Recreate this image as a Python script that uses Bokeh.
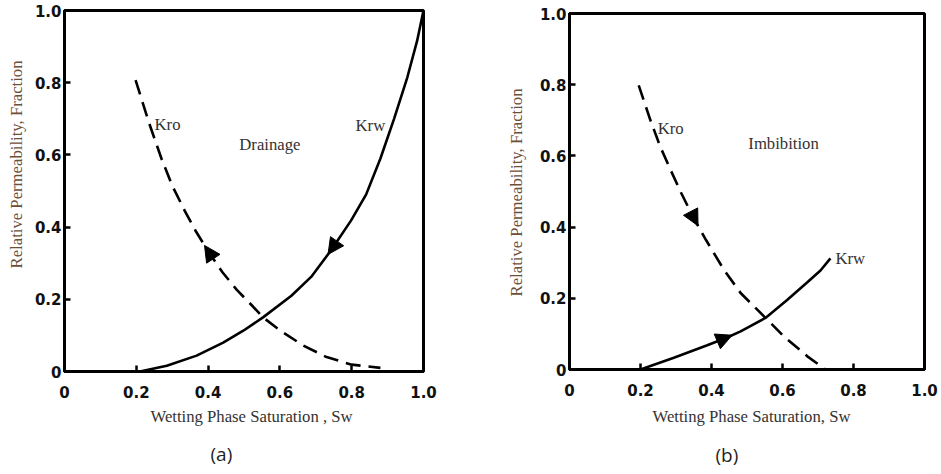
import numpy as np
from bokeh.plotting import figure
from bokeh.layouts import row, column
from bokeh.models import (Range1d, FixedTicker, CustomJSTickFormatter, Label, Title,
                          Arrow, NormalHead)
from bokeh.embed import file_html
from bokeh.resources import INLINE

# Axis ticks (fraction scales on both axes)
tick_values = [0.0, 0.2, 0.4, 0.6, 0.8, 1.0]

# (a) Drainage: relative permeability vs wetting phase saturation
drain_kro_sw = [0.198, 0.235, 0.270, 0.300, 0.335, 0.365, 0.400, 0.440, 0.480, 0.525,
                0.553, 0.600, 0.665, 0.730, 0.800, 0.880]
drain_kro = [0.807, 0.690, 0.590, 0.515, 0.445, 0.390, 0.333, 0.275, 0.226, 0.180,
             0.150, 0.114, 0.072, 0.040, 0.019, 0.010]
drain_krw_sw = [0.210, 0.285, 0.368, 0.442, 0.498, 0.553, 0.632, 0.687, 0.742, 0.798,
                0.840, 0.880, 0.918, 0.955, 0.982, 1.000]
drain_krw = [0.000, 0.016, 0.044, 0.080, 0.113, 0.150, 0.210, 0.262, 0.335, 0.418,
             0.490, 0.590, 0.700, 0.815, 0.915, 1.000]

# (b) Imbibition
imb_kro_sw = [0.195, 0.228, 0.256, 0.285, 0.315, 0.350, 0.385, 0.435, 0.482, 0.552,
              0.604, 0.670, 0.721]
imb_kro = [0.798, 0.700, 0.625, 0.560, 0.495, 0.425, 0.363, 0.280, 0.215, 0.145,
           0.093, 0.037, 0.000]
imb_krw_sw = [0.200, 0.294, 0.388, 0.444, 0.482, 0.552, 0.613, 0.670, 0.707, 0.735]
imb_krw = [0.000, 0.033, 0.068, 0.090, 0.107, 0.145, 0.195, 0.245, 0.278, 0.312]

# Direction arrows on each curve: saturation at the arrow tip, +1 = towards higher Sw
drain_arrows = [("kro", 0.390, -1), ("krw", 0.734, -1)]
imb_arrows = [("kro", 0.362, +1), ("krw", 0.458, +1)]

SERIF = "Liberation Serif"
SERIF_SIZE = "16.7px"
TEXT_GREY = "#333333"


def make_panel(kro_sw, kro, krw_sw, krw, arrows, title, panel_tag, width,
               borders, label_pos, xlab_text, ytitle_cfg, xtitle_cfg, tag_cfg):
    left, right, top, bottom = borders
    p = figure(width=width, height=474, output_backend="svg", toolbar_location=None,
               x_range=Range1d(0, 1), y_range=Range1d(0, 1),
               min_border_left=left, min_border_right=right,
               min_border_top=top, min_border_bottom=bottom,
               background_fill_color="white", border_fill_color="white")
    p.grid.visible = False
    p.outline_line_color = "black"
    p.outline_line_width = 3
    p.outline_line_alpha = 1.0

    for ax in (p.xaxis, p.yaxis):
        ax.ticker = FixedTicker(ticks=tick_values, minor_ticks=[])
        ax.formatter = CustomJSTickFormatter(code="return tick == 0 ? '0' : tick.toFixed(1);")
        ax.axis_line_width = 3
        ax.major_tick_in = 6
        ax.major_tick_out = 0
        ax.major_tick_line_width = 2.5
        ax.minor_tick_line_color = None
        ax.major_label_text_font = "DejaVu Sans"
        ax.major_label_text_font_style = "bold"
        ax.major_label_text_font_size = "15px"
        ax.major_label_text_color = "#111111"
    p.xaxis.major_label_standoff = 14
    p.yaxis.major_label_standoff = 3

    # Oil (dashed) and water (solid) relative permeability curves
    p.line(kro_sw, kro, line_color="black", line_width=2.6, line_dash="15 8")
    p.line(krw_sw, krw, line_color="black", line_width=2.6)

    curves = {"kro": (kro_sw, kro), "krw": (krw_sw, krw)}
    for name, sw_tip, direction in arrows:
        xs, ys = curves[name]
        x_start = sw_tip - direction * 0.03
        p.add_layout(Arrow(
            end=NormalHead(size=16, fill_color="black", line_color="black", line_width=1),
            x_start=x_start, y_start=float(np.interp(x_start, xs, ys)),
            x_end=sw_tip, y_end=float(np.interp(sw_tip, xs, ys)),
            line_alpha=0.0))

    # In-plot curve names and process name
    kro_xy, title_xy, krw_xy, krw_align = label_pos
    txt = dict(text_font=SERIF, text_font_size=SERIF_SIZE, text_color=TEXT_GREY,
               text_align="center", text_baseline="middle")
    p.add_layout(Label(x=kro_xy[0], y=kro_xy[1], text="Kro", **txt))
    p.add_layout(Label(x=title_xy[0], y=title_xy[1], text=title, **txt))
    krw_style = dict(txt, text_align=krw_align)
    p.add_layout(Label(x=krw_xy[0], y=krw_xy[1], text="Krw", **krw_style))

    # Axis titles and panel tag, laid out in the side panels
    y_off, y_stand = ytitle_cfg
    p.add_layout(Title(text="Relative Permeability, Fraction", align="right",
                       vertical_align="middle", offset=y_off, standoff=y_stand,
                       text_font=SERIF, text_font_size=SERIF_SIZE, text_font_style="normal",
                       text_color="#6e4e36"), "left")
    x_off, x_stand = xtitle_cfg
    p.add_layout(Title(text=xlab_text, align="left", vertical_align="middle",
                       offset=x_off, standoff=x_stand,
                       text_font=SERIF, text_font_size=SERIF_SIZE, text_font_style="normal",
                       text_color=TEXT_GREY), "below")
    t_off, t_stand = tag_cfg
    p.add_layout(Title(text=panel_tag, align="left", vertical_align="middle",
                       offset=t_off, standoff=t_stand,
                       text_font="Open Sans", text_font_size="19px",
                       text_font_style="normal", text_color="#1f1f1f"), "below")
    return p


p_a = make_panel(drain_kro_sw, drain_kro, drain_krw_sw, drain_krw, drain_arrows,
                 "Drainage", "(a)", 470, (62, 47, 10, 102),
                 ((0.287, 0.685), (0.572, 0.630), (0.852, 0.682), "center"),
                 "Wetting Phase Saturation , Sw",
                 (50, 10), (86, 11), (146, 14))

p_b = make_panel(imb_kro_sw, imb_kro, imb_krw_sw, imb_krw, imb_arrows,
                 "Imbibition", "(b)", 471, (99, 17, 13, 104),
                 ((0.285, 0.678), (0.603, 0.636), (0.749, 0.311), "left"),
                 "Wetting Phase Saturation, Sw",
                 (75, 20), (83, 15), (146, 12))

# Each panel keeps its own frame placement inside the row
layout = row(column(p_a), column(p_b), spacing=0)
open("out.html", "w").write(file_html(layout, INLINE))
